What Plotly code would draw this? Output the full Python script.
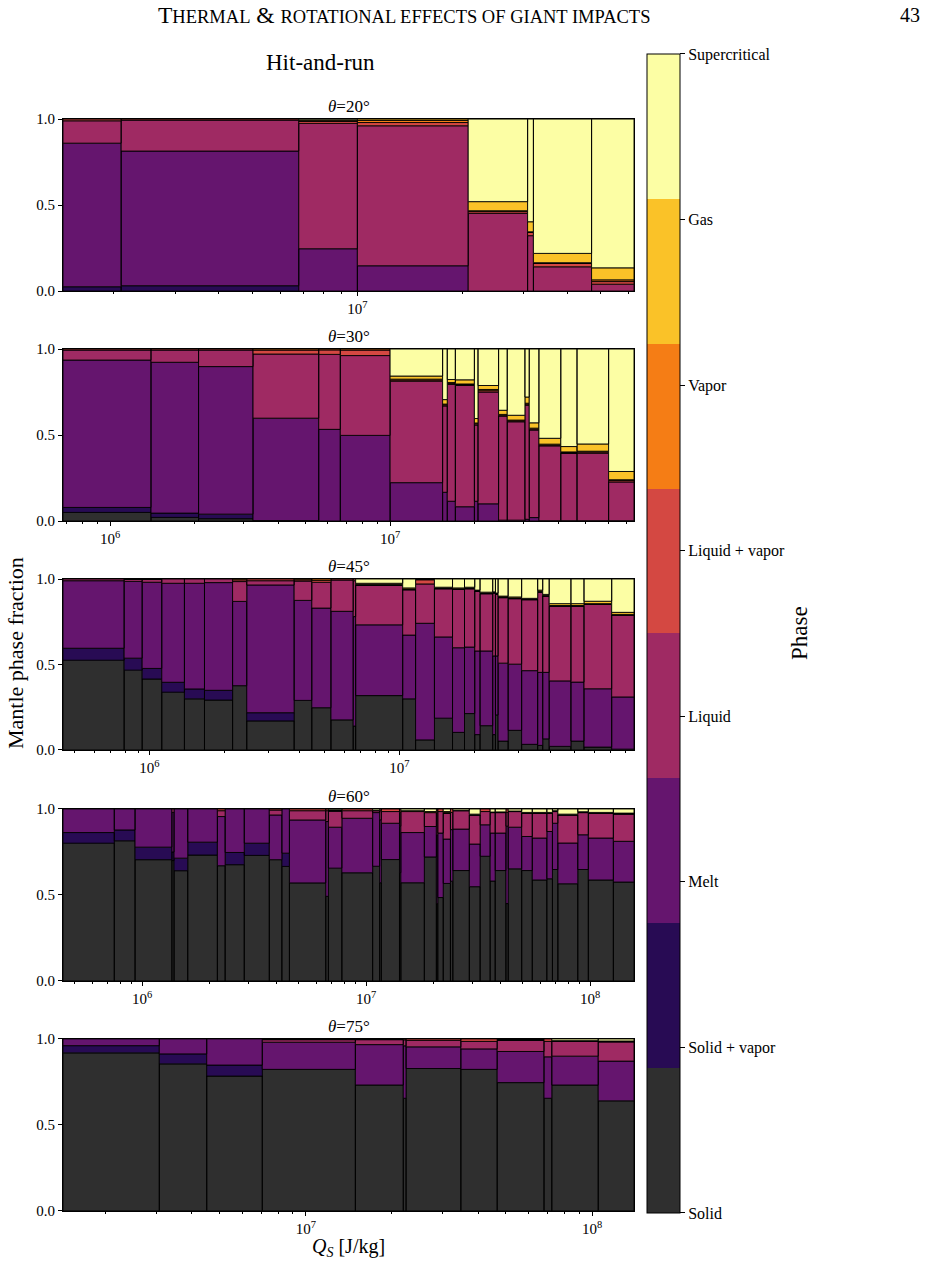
import math
import plotly.graph_objects as go

W, H = 926, 1264
FONT = "Liberation Serif"

PHASES = ["Solid", "Solid + vapor", "Melt", "Liquid", "Liquid + vapor",
          "Vapor", "Gas", "Supercritical"]
PHASE_COLORS = ["#2f2f2f", "#280b54", "#65156e", "#9f2a63", "#d44842",
                "#f57d15", "#fac228", "#fcfea4"]

# ---- theta = 20 deg ----
Q_EDGES_20 = [1.43e6, 2.10e6, 6.79e6, 1.00e7, 2.08e7, 3.08e7, 3.20e7, 4.70e7, 6.22e7]
TOPS_20 = [  # cumulative tops: Solid, S+V, Melt, Liquid, L+V, Vapor, Gas, Supercritical
    [0, 0.025, 0.86, 0.99],
    [0, 0.031, 0.814, 0.994],
    [0, 0, 0.246, 0.975, 0.988, 0.99, 0.995],
    [0, 0, 0.147, 0.961, 0.98, 0.992],
    [0, 0, 0, 0.452, 0.462, 0.467, 0.52],
    [0, 0, 0, 0.322, 0.341, 0.345, 0.403],
    [0, 0, 0, 0.141, 0.161, 0.165, 0.219],
    [0, 0, 0, 0.04, 0.055, 0.065, 0.135],
]

# ---- theta = 30 deg ----
Q_EDGES_30 = [6.79e5, 1.40e6, 2.07e6, 3.24e6, 5.56e6, 6.64e6, 1.00e7, 1.54e7, 1.60e7,
              1.71e7, 2.00e7, 2.06e7, 2.44e7, 2.62e7, 3.03e7, 3.14e7, 3.40e7, 4.07e7,
              4.65e7, 6.03e7, 7.43e7]
TOPS_30 = [
    [0.05, 0.079, 0.936, 0.994],
    [0.021, 0.046, 0.923, 0.994],
    [0.0135, 0.04, 0.898, 0.994],
    [0.003, 0.003, 0.598, 0.971, 0.994],
    [0, 0, 0.533, 0.969, 0.995],
    [0, 0, 0.498, 0.962, 0.994],
    [0, 0, 0.223, 0.813, 0.82, 0.825, 0.843],
    [0, 0, 0.167, 0.669, 0.675, 0.68, 0.706],
    [0, 0, 0.115, 0.794, 0.8, 0.805, 0.823],
    [0, 0, 0.083, 0.788, 0.793, 0.797, 0.821],
    [0, 0, 0.115, 0.558, 0.565, 0.57, 0.596],
    [0, 0, 0.1, 0.75, 0.758, 0.765, 0.788],
    [0, 0, 0.005, 0.61, 0.615, 0.62, 0.644],
    [0, 0, 0.005, 0.577, 0.582, 0.587, 0.615],
    [0, 0, 0.01, 0.673, 0.68, 0.685, 0.721],
    [0, 0, 0.02, 0.529, 0.535, 0.54, 0.571],
    [0, 0, 0.002, 0.437, 0.442, 0.447, 0.481],
    [0, 0, 0.002, 0.394, 0.398, 0.402, 0.433],
    [0, 0, 0.002, 0.394, 0.402, 0.406, 0.448],
    [0, 0, 0.002, 0.227, 0.235, 0.24, 0.288],
]

# ---- theta = 45 deg ----
Q_EDGES_45 = [4.51e5, 7.92e5, 9.35e5, 1.12e6, 1.38e6, 1.66e6, 2.15e6, 2.45e6, 3.79e6,
              4.46e6, 5.32e6, 6.53e6, 6.68e6, 1.03e7, 1.16e7, 1.38e7, 1.63e7, 1.82e7,
              2.00e7, 2.10e7, 2.36e7, 2.42e7, 2.48e7, 2.72e7, 3.08e7, 3.57e7, 3.74e7,
              3.97e7, 4.85e7, 5.47e7, 7.06e7, 8.67e7]
TOPS_45 = [
    [0.525, 0.595, 0.99],
    [0.467, 0.537, 0.986, 0.998],
    [0.415, 0.477, 0.981, 0.998],
    [0.338, 0.396, 0.975],
    [0.299, 0.357, 0.975],
    [0.292, 0.349, 0.979],
    [0.376, 0.376, 0.869, 0.985, 0.995],
    [0.17, 0.218, 0.965, 0.99],
    [0.29, 0.29, 0.875, 0.988, 0.995],
    [0.247, 0.247, 0.83, 0.981, 0.992],
    [0.176, 0.176, 0.811, 0.994],
    [0.14, 0.14, 0.78, 0.99],
    [0.318, 0.318, 0.732, 0.962, 0.965, 0.968, 0.975],
    [0.299, 0.299, 0.672, 0.937, 0.94, 0.942, 0.948],
    [0.059, 0.059, 0.741, 0.971, 0.996],
    [0.186, 0.186, 0.661, 0.943, 0.945, 0.947, 0.952],
    [0.103, 0.103, 0.598, 0.939, 0.941, 0.943, 0.948],
    [0.213, 0.213, 0.602, 0.943, 0.945, 0.947, 0.952],
    [0.09, 0.09, 0.579, 0.927, 0.929, 0.931, 0.935],
    [0.142, 0.142, 0.579, 0.914, 0.916, 0.918, 0.923],
    [0.09, 0.09, 0.55, 0.918, 0.92, 0.922, 0.925],
    [0.205, 0.205, 0.55, 0.91, 0.912, 0.914, 0.918],
    [0.052, 0.052, 0.508, 0.891, 0.893, 0.895, 0.9],
    [0.115, 0.115, 0.502, 0.885, 0.887, 0.889, 0.895],
    [0.033, 0.033, 0.464, 0.879, 0.881, 0.883, 0.887],
    [0.027, 0.027, 0.454, 0.923, 0.925, 0.927, 0.935],
    [0.065, 0.065, 0.454, 0.9, 0.902, 0.904, 0.91],
    [0.021, 0.021, 0.404, 0.841, 0.843, 0.845, 0.856],
    [0.052, 0.052, 0.397, 0.841, 0.843, 0.845, 0.856],
    [0.017, 0.017, 0.358, 0.852, 0.854, 0.856, 0.87],
    [0.005, 0.005, 0.31, 0.789, 0.791, 0.793, 0.805],
]

# ---- theta = 60 deg ----
Q_EDGES_60 = [4.44e5, 7.52e5, 9.31e5, 1.36e6, 1.39e6, 1.60e6, 2.17e6, 2.35e6, 2.86e6,
              3.70e6, 4.21e6, 4.55e6, 6.61e6, 6.79e6, 7.80e6, 1.07e7, 1.15e7, 1.17e7,
              1.41e7, 1.43e7, 1.82e7, 2.06e7, 2.09e7, 2.21e7, 2.38e7, 2.44e7, 2.89e7,
              3.23e7, 3.58e7, 3.77e7, 4.21e7, 4.31e7, 4.95e7, 5.52e7, 6.41e7, 6.79e7,
              7.18e7, 8.81e7, 9.82e7, 1.27e8, 1.57e8]
TOPS_60 = [
    [0.801, 0.863],
    [0.815, 0.878],
    [0.705, 0.778],
    [0.70, 0.75, 0.98],
    [0.641, 0.714],
    [0.732, 0.807],
    [0.67, 0.67, 0.956, 0.99],
    [0.676, 0.747],
    [0.73, 0.801],
    [0.705, 0.705, 0.965, 0.994],
    [0.666, 0.743],
    [0.57, 0.57, 0.936, 0.99],
    [0.492, 0.492, 0.927, 0.99],
    [0.656, 0.656, 0.894, 0.988, 0.99, 0.992, 0.995],
    [0.629, 0.629, 0.946, 0.99],
    [0.667, 0.667, 0.979, 0.99, 0.99, 0.99, 0.992],
    [0.571, 0.571, 0.937, 0.99],
    [0.706, 0.706, 0.917, 0.985],
    [0.63, 0.63, 0.9, 0.98],
    [0.571, 0.571, 0.863, 0.985, 0.985, 0.985, 0.99],
    [0.721, 0.721, 0.898, 0.979, 0.98, 0.98, 0.985],
    [0.45, 0.45, 0.85, 0.99],
    [0.485, 0.485, 0.86, 0.985],
    [0.567, 0.567, 0.825, 0.975, 0.977, 0.979, 0.985],
    [0.58, 0.58, 0.88, 0.98],
    [0.642, 0.642, 0.883, 0.99, 0.99, 0.99, 0.992],
    [0.548, 0.548, 0.796, 0.965, 0.966, 0.967, 0.97],
    [0.725, 0.725, 0.908, 0.985],
    [0.581, 0.581, 0.86, 0.979, 0.98, 0.98, 0.982],
    [0.642, 0.642, 0.86, 0.979, 0.98, 0.98, 0.983],
    [0.45, 0.45, 0.9, 0.98],
    [0.652, 0.652, 0.894, 0.985, 0.986, 0.986, 0.988],
    [0.642, 0.642, 0.84, 0.975, 0.976, 0.977, 0.98],
    [0.587, 0.587, 0.831, 0.975, 0.976, 0.977, 0.98],
    [0.594, 0.594, 0.869, 0.975, 0.976, 0.977, 0.98],
    [0.648, 0.648, 0.917, 0.985, 0.986, 0.987, 0.99],
    [0.565, 0.565, 0.802, 0.965, 0.966, 0.967, 0.97],
    [0.648, 0.648, 0.85, 0.979, 0.98, 0.981, 0.984],
    [0.587, 0.587, 0.831, 0.975, 0.976, 0.977, 0.98],
    [0.575, 0.575, 0.812, 0.971, 0.972, 0.973, 0.976],
]

# ---- theta = 75 deg ----
Q_EDGES_75 = [1.42e6, 3.08e6, 4.51e6, 7.05e6, 1.49e7, 2.19e7, 2.24e7, 3.48e7, 4.66e7,
              6.79e7, 7.23e7, 1.05e8, 1.40e8]
TOPS_75 = [
    [0.919, 0.961],
    [0.855, 0.913],
    [0.784, 0.848],
    [0.823, 0.823, 0.981, 0.996],
    [0.732, 0.732, 0.967, 0.996],
    [0.655, 0.655, 0.96, 0.995],
    [0.828, 0.828, 0.954, 0.992],
    [0.823, 0.823, 0.942, 0.986],
    [0.746, 0.746, 0.927, 0.992, 0.993, 0.994, 0.996],
    [0.655, 0.655, 0.896, 0.986],
    [0.732, 0.732, 0.9, 0.986, 0.987, 0.988, 0.99],
    [0.64, 0.64, 0.871, 0.983, 0.985, 0.986, 0.988],
]

ANGLES = [20, 30, 45, 60, 75]
PANELS = [(Q_EDGES_20, TOPS_20), (Q_EDGES_30, TOPS_30), (Q_EDGES_45, TOPS_45),
          (Q_EDGES_60, TOPS_60), (Q_EDGES_75, TOPS_75)]

# panel pixel boxes (top, bottom) in the target picture
PANEL_Y = [(119, 291), (349, 521), (579, 750), (809, 981), (1039, 1211)]
X_L, X_R = 63, 634


def px(x):
    return x / W


def yfix(y):
    # compensate the slight vertical squeeze observed in the rendered page
    return (y - 7.9) / 0.9875


def py(y):
    return 1 - yfix(y) / H


fig = go.Figure()

for p, ((edges, tops), ang) in enumerate(zip(PANELS, ANGLES)):
    ax = "" if p == 0 else str(p + 1)
    full = [list(r) + [1.0] * (8 - len(r)) for r in tops]
    for k in range(8):
        xs, ys = [], []
        for i, row in enumerate(full):
            b = 0.0 if k == 0 else full[i][k - 1]
            t = row[k]
            if t - b <= 1e-6:
                continue
            x0, x1 = edges[i], edges[i + 1]
            xs += [x0, x1, x1, x0, x0, None]
            ys += [b, b, t, t, b, None]
        if not xs:
            continue
        fig.add_trace(go.Scatter(
            x=xs, y=ys, mode="lines", fill="toself", fillcolor=PHASE_COLORS[k],
            line=dict(color="black", width=0.9), xaxis="x" + ax, yaxis="y" + ax,
            showlegend=False, hoverinfo="skip"))

    top, bot = PANEL_Y[p]
    minor_vals = [m * 10 ** e for e in range(5, 9) for m in range(2, 10)]
    fig.layout["xaxis" + ax] = dict(
        type="log", domain=[px(X_L), px(X_R)], anchor="y" + ax,
        range=[math.log10(edges[0]), math.log10(edges[-1])],
        tickvals=[1e5, 1e6, 1e7, 1e8], ticktext=["10<sup>5</sup>", "10<sup>6</sup>",
                                                  "10<sup>7</sup>", "10<sup>8</sup>"],
        ticks="outside", ticklen=4, tickcolor="black", showgrid=False, zeroline=False,
        showline=True, linecolor="black", linewidth=1, mirror=True,
        minor=dict(tickvals=minor_vals, ticks="outside", ticklen=2, tickcolor="black",
                   showgrid=False),
        tickfont=dict(family=FONT, size=15, color="black"))
    fig.layout["yaxis" + ax] = dict(
        domain=[py(bot), py(top)], anchor="x" + ax, range=[0, 1],
        tickvals=[0, 0.5, 1.0], ticktext=["0.0", "0.5", "1.0"],
        ticks="outside", ticklen=4, tickcolor="black", showgrid=False, zeroline=False,
        showline=True, linecolor="black", linewidth=1, mirror=True,
        tickfont=dict(family=FONT, size=15, color="black"))
    fig.add_annotation(x=px((X_L + X_R) / 2), y=py(top - 1), xref="paper", yref="paper",
                       text="<i>θ</i>=%d°" % ang, showarrow=False, xanchor="center",
                       yanchor="bottom", font=dict(family=FONT, size=17, color="black"))

# colorbar via dummy trace
cs = []
for k, c in enumerate(PHASE_COLORS):
    cs.append([k / 8, c])
    cs.append([(k + 1) / 8, c])
fig.add_trace(go.Scatter(
    x=[None], y=[None], mode="markers", showlegend=False, hoverinfo="skip",
    marker=dict(color=[0], cmin=0, cmax=7, colorscale=cs, showscale=True,
                colorbar=dict(x=px(647), xanchor="left", y=py(1213), yanchor="bottom",
                              len=py(54) - py(1213), lenmode="fraction", thickness=33,
                              thicknessmode="pixels", xpad=0, ypad=0,
                              outlinewidth=1, outlinecolor="black",
                              tickvals=list(range(8)), ticktext=PHASES,
                              ticks="outside", ticklen=5, tickcolor="black",
                              tickfont=dict(family=FONT, size=16, color="black"))),
    xaxis="x", yaxis="y"))


def label(x, y, text, size, angle=0):
    fig.add_annotation(x=px(x), y=py(y), xref="paper", yref="paper", text=text,
                       textangle=angle, showarrow=False, xanchor="center",
                       yanchor="middle", font=dict(family=FONT, size=size, color="black"))


sc = "font-size:18.5px"
header = ("T<span style='%s'>HERMAL</span> &amp; <span style='%s'>ROTATIONAL EFFECTS OF GIANT IMPACTS</span>"
          % (sc, sc))
label(404, 15, header, 23.5)
label(910, 15, "43", 20)
label(320, 62, "Hit-and-run", 23)
label(16, 653, "Mantle phase fraction", 22, -90)
label(348, 1248, "<i>Q</i><sub><i>S</i></sub> [J/kg]", 20)
label(800, 633, "Phase", 23, -90)

fig.update_layout(width=W, height=H, margin=dict(l=0, r=0, t=0, b=0),
                  paper_bgcolor="white", plot_bgcolor="white", showlegend=False)

fig.write_html("out.html")
